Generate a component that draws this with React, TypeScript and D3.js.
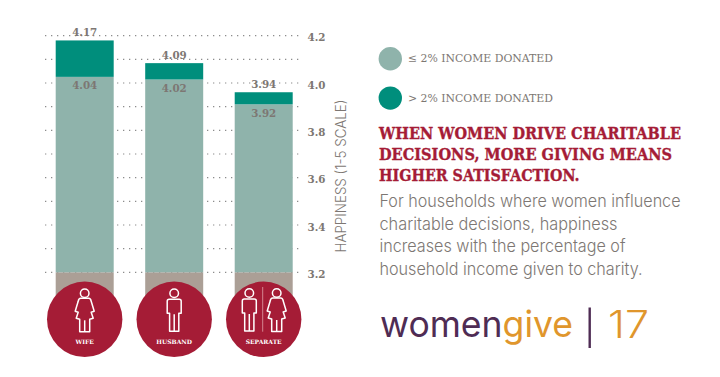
import React from "react";
import * as d3 from "d3";

const categories = ["WIFE", "HUSBAND", "SEPARATE"];
const lowLabels = ["4.04", "4.02", "3.92"];
const highLabels = ["4.17", "4.09", "3.94"];
const lowHeights = [4.026, 4.015, 3.91];
const highHeights = [4.18, 4.084, 3.961];
const gridValues = [4.2, 4.1, 4.0, 3.9, 3.8, 3.7, 3.6, 3.5, 3.4, 3.3, 3.2];
const tickValues = [4.2, 4.0, 3.8, 3.6, 3.4, 3.2];
const legendLabels = ["\u2264 2% INCOME DONATED", "> 2% INCOME DONATED"];
const headingLines = ["WHEN WOMEN DRIVE CHARITABLE", "DECISIONS, MORE GIVING MEANS", "HIGHER SATISFACTION."];
const headingWidths = [302, 293, 200.5];
const bodyLines = ["For households where women influence", "charitable decisions, happiness", "increases with the percentage of", "household income given to charity."];
const bodyWidths = [301, 238, 246, 263];

const y = d3.scaleLinear().domain([3.2, 4.2]).range([272.3, 35.7]);
const x = d3.scaleBand<string>().domain(categories).range([55.7, 292.7]).paddingInner(0.352).paddingOuter(0);

const SLAB = "'DejaVu Serif', serif";
const LIGHT = "Inter, Lato, sans-serif";
const TEAL_LIGHT = "#8fb3ab";
const TEAL = "#008e7c";
const TAUPE = "#ab9f96";
const RED = "#a51c36";
const GREY = "#7d7773";

function Woman({ cx, cy }: { cx: number; cy: number }) {
  return (
    <g transform={`translate(${cx},${cy})`} fill="none" stroke="#fff" strokeWidth={1.5} strokeLinejoin="round">
      <circle cx={0} cy={-26} r={4.3} />
      <path d="M-4,-21 L4,-21 Q6,-21 6.5,-18 L9.5,-8 L6.5,-7 L8.5,-1 L5,0 L5,12.4 L-5,12.4 L-5,0 L-8.5,-1 L-6.5,-7 L-9.5,-8 L-6.5,-18 Q-6,-21 -4,-21 Z" />
      <path d="M0,1 L0,12.4" />
    </g>
  );
}
function Man({ cx, cy }: { cx: number; cy: number }) {
  return (
    <g transform={`translate(${cx},${cy})`} fill="none" stroke="#fff" strokeWidth={1.5} strokeLinejoin="round">
      <circle cx={0} cy={-26} r={4.3} />
      <path d="M-5,-20 L5,-20 Q7,-20 7,-18 L7,-6 L4.6,-6 L4.6,12 L-4.6,12 L-4.6,-6 L-7,-6 L-7,-18 Q-7,-20 -5,-20 Z" />
      <path d="M0,-5 L0,12" />
    </g>
  );
}

export default function App() {
  const bw = x.bandwidth();
  const gridX: [number, number] = [45, 300.7];
  return (
    <svg width={720} height={377} style={{ position: "absolute", left: 0, top: 0, background: "#fff" }}>
      {gridValues.map((v) => (
        <line key={v} x1={gridX[0]} x2={gridX[1]} y1={y(v)} y2={y(v)} stroke="#8c8c8c" strokeWidth={1.2} strokeDasharray="1.3 4.7" />
      ))}
      {tickValues.map((v) => (
        <text key={v} x={307.5} y={y(v) + 5.6} fontFamily={SLAB} fontWeight={700} fontSize={10.3} fill={GREY}>{v.toFixed(1)}</text>
      ))}
      <text transform="translate(345.5,176) rotate(-90)" textAnchor="middle" fontFamily={LIGHT} fontWeight={300} fontSize={14} fill={GREY} textLength={153} lengthAdjust="spacingAndGlyphs">HAPPINESS (1-5 SCALE)</text>

      {categories.map((c, i) => {
        const bx = x(c)!;
        const cx = bx + bw / 2;
        return (
          <g key={c}>
            <rect x={bx} y={y(3.2)} width={bw} height={24} fill={TAUPE} />
            <rect x={bx} y={y(lowHeights[i])} width={bw} height={y(3.2) - y(lowHeights[i])} fill={TEAL_LIGHT} />
            <rect x={bx} y={y(highHeights[i])} width={bw} height={y(lowHeights[i]) - y(highHeights[i])} fill={TEAL} />
            <text x={cx} y={y(highHeights[i]) - 4.5} textAnchor="middle" fontFamily={SLAB} fontWeight={700} fontSize={10.3} fill={GREY}>{highLabels[i]}</text>
            <text x={cx} y={y(lowHeights[i]) + 12.5} textAnchor="middle" fontFamily={SLAB} fontWeight={700} fontSize={10.3} fill={GREY}>{lowLabels[i]}</text>
            <circle cx={cx} cy={319.3} r={37.7} fill={RED} />
            {c === "WIFE" && <Woman cx={cx} cy={319.3} />}
            {c === "HUSBAND" && <Man cx={cx} cy={319.3} />}
            {c === "SEPARATE" && (
              <g>
                <Man cx={cx - 14.4} cy={319} />
                <line x1={cx - 1} x2={cx - 1} y1={287} y2={331.7} stroke="#e0a0a8" strokeWidth={0.8} />
                <Woman cx={cx + 13} cy={319} />
              </g>
            )}
            <text x={cx} y={344} textAnchor="middle" fontFamily={SLAB} fontWeight={700} fontSize={6} fill="#fff">{c}</text>
          </g>
        );
      })}

      {legendLabels.map((l, i) => (
        <g key={l}>
          <circle cx={390.3} cy={58.7 + i * 39.4} r={11.7} fill={i === 0 ? TEAL_LIGHT : TEAL} />
          <text x={408} y={62 + i * 40} fontFamily={SLAB} fontSize={11.3} fill={GREY} textLength={145} lengthAdjust="spacingAndGlyphs">{l}</text>
        </g>
      ))}
      {headingLines.map((l, i) => (
        <text key={l} x={379} y={138.7 + i * 21} fontFamily={SLAB} fontWeight={700} fontSize={16} fill={RED} stroke={RED} strokeWidth={0.35} textLength={headingWidths[i]} lengthAdjust="spacingAndGlyphs">{l}</text>
      ))}
      {bodyLines.map((l, i) => (
        <text key={l} x={379.5} y={207 + i * 22.7} fontFamily={LIGHT} fontWeight={300} fontSize={17} fill={GREY} textLength={bodyWidths[i]} lengthAdjust="spacingAndGlyphs">{l}</text>
      ))}
      <text x={380} y={337} fontFamily={LIGHT} fontWeight={400} fontSize={36} textLength={193} lengthAdjust="spacingAndGlyphs">
        <tspan fill="#4f2c54">women</tspan><tspan fill="#e0962c">give</tspan>
      </text>
      <line x1={589.7} x2={589.7} y1={307.5} y2={348} stroke="#4f2c54" strokeWidth={2.4} />
      <text x={608} y={337.5} fontFamily={LIGHT} fontWeight={300} fontSize={38} fill="#e0962c" textLength={41} lengthAdjust="spacingAndGlyphs">17</text>
    </svg>
  );
}
